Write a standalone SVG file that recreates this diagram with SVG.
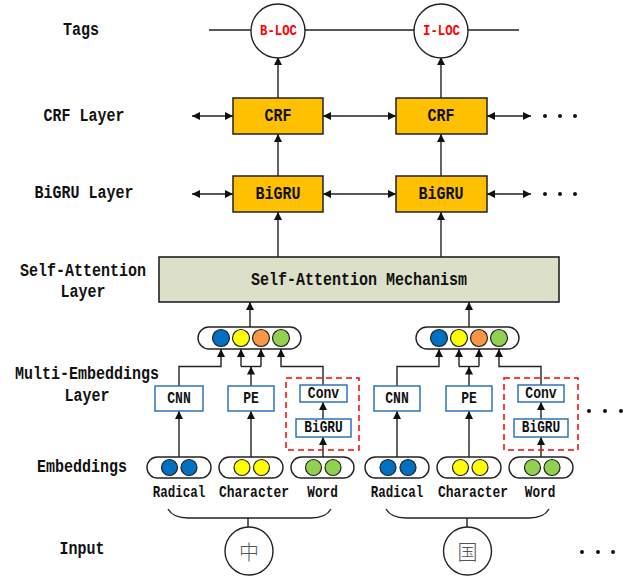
<svg xmlns="http://www.w3.org/2000/svg" width="641" height="580" viewBox="0 0 641 580">
  <defs>
    <marker id="arr" viewBox="0 0 10 10" refX="10" refY="5" markerWidth="9" markerHeight="8" markerUnits="userSpaceOnUse" orient="auto-start-reverse">
      <path d="M0,0 L10,5 L0,10 z" fill="#111"/>
    </marker>
    <style>
      text { font-family: "Liberation Mono", "DejaVu Sans Mono", monospace; font-weight: bold; fill: #111; text-anchor: middle; dominant-baseline: central; }
      .lbl { font-size: 19px; }
      .sm { font-size: 16px; }
      .tag { font-size: 15px; fill: #ff0000; }
      .cjk { font-family: "Noto Sans CJK SC", sans-serif; font-weight: 300; font-size: 20px; fill: #555; }
      .ln { stroke: #222; stroke-width: 1.4; fill: none; }
      .ar { stroke: #222; stroke-width: 1.4; fill: none; marker-end: url(#arr); }
      .dar { stroke: #222; stroke-width: 1.4; fill: none; marker-start: url(#arr); marker-end: url(#arr); }
      .gold { fill: #ffc000; stroke: #222; stroke-width: 1.5; }
      .att { fill: #dde0c9; stroke: #222; stroke-width: 1.6; }
      .blue { fill: #fff; stroke: #2e75b6; stroke-width: 1.5; }
      .dash { fill: none; stroke: #ff0000; stroke-width: 1.5; stroke-dasharray: 6 4; }
      .oval { fill: #fff; stroke: #222; stroke-width: 1.4; }
      .circ { fill: #fff; stroke: #222; stroke-width: 1.4; }
      .dot { fill: #111; }
      .c1 { fill: #0070c0; stroke: #222; stroke-width: 1.2; }
      .c2 { fill: #ffff00; stroke: #222; stroke-width: 1.2; }
      .c3 { fill: #f79646; stroke: #222; stroke-width: 1.2; }
      .c4 { fill: #92d050; stroke: #222; stroke-width: 1.2; }
    </style>
  </defs>

  <!-- layer labels -->
  <g id="layer-labels">
    <text class="lbl" x="81" y="30" textLength="36" lengthAdjust="spacingAndGlyphs">Tags</text>
    <text class="lbl" x="84" y="116" textLength="81" lengthAdjust="spacingAndGlyphs">CRF Layer</text>
    <text class="lbl" x="84" y="193" textLength="99" lengthAdjust="spacingAndGlyphs">BiGRU Layer</text>
    <text class="lbl" x="83" y="271" textLength="126" lengthAdjust="spacingAndGlyphs">Self-Attention</text>
    <text class="lbl" x="83" y="292" textLength="45" lengthAdjust="spacingAndGlyphs">Layer</text>
    <text class="lbl" x="87" y="374" textLength="144" lengthAdjust="spacingAndGlyphs">Multi-Embeddings</text>
    <text class="lbl" x="87" y="396" textLength="45" lengthAdjust="spacingAndGlyphs">Layer</text>
    <text class="lbl" x="82" y="467" textLength="90" lengthAdjust="spacingAndGlyphs">Embeddings</text>
    <text class="lbl" x="82" y="549" textLength="45" lengthAdjust="spacingAndGlyphs">Input</text>
  </g>

  <!-- connectors -->
  <g id="connectors">
    <line class="ln" x1="209" y1="30" x2="519" y2="30"/>
    <!-- CRF to tags -->
    <line class="ar" x1="278" y1="98" x2="278" y2="57"/>
    <line class="ar" x1="441" y1="98" x2="441" y2="57"/>
    <!-- BiGRU to CRF -->
    <line class="ar" x1="278" y1="176" x2="278" y2="134"/>
    <line class="ar" x1="441" y1="176" x2="441" y2="134"/>
    <!-- attention to BiGRU -->
    <line class="ar" x1="278" y1="257" x2="278" y2="212"/>
    <line class="ar" x1="441" y1="257" x2="441" y2="212"/>
    <!-- horizontal links -->
    <line class="dar" x1="192" y1="116" x2="233" y2="116"/>
    <line class="dar" x1="323" y1="116" x2="396" y2="116"/>
    <line class="dar" x1="487" y1="116" x2="531" y2="116"/>
    <line class="dar" x1="192" y1="194" x2="233" y2="194"/>
    <line class="dar" x1="323" y1="194" x2="396" y2="194"/>
    <line class="dar" x1="487" y1="194" x2="531" y2="194"/>
    <!-- concat to attention -->
    <line class="ar" x1="250" y1="327" x2="250" y2="302"/>
    <line class="ar" x1="469" y1="327" x2="469" y2="302"/>

    <!-- column 1 embeddings -> concat -->
    <polyline class="ar" points="179,386 179,366.5 221,366.5 221,349"/>
    <line class="ar" x1="251" y1="386" x2="251" y2="366.5"/>
    <line class="ln" x1="241" y1="366.5" x2="261" y2="366.5"/>
    <line class="ar" x1="241" y1="366.5" x2="241" y2="349"/>
    <line class="ar" x1="261" y1="366.5" x2="261" y2="349"/>
    <polyline class="ar" points="323,385 323,366.5 281,366.5 281,349"/>
    <line class="ar" x1="323" y1="419" x2="323" y2="402"/>
    <line class="ar" x1="179" y1="457" x2="179" y2="411"/>
    <line class="ar" x1="251" y1="457" x2="251" y2="411"/>
    <line class="ar" x1="323" y1="457" x2="323" y2="437"/>

    <!-- column 2 embeddings -> concat -->
    <polyline class="ar" points="397,386 397,366.5 439,366.5 439,349"/>
    <line class="ar" x1="469" y1="386" x2="469" y2="366.5"/>
    <line class="ln" x1="459" y1="366.5" x2="479" y2="366.5"/>
    <line class="ar" x1="459" y1="366.5" x2="459" y2="349"/>
    <line class="ar" x1="479" y1="366.5" x2="479" y2="349"/>
    <polyline class="ar" points="541,385 541,366.5 499,366.5 499,349"/>
    <line class="ar" x1="541" y1="419" x2="541" y2="402"/>
    <line class="ar" x1="397" y1="457" x2="397" y2="411"/>
    <line class="ar" x1="469" y1="457" x2="469" y2="411"/>
    <line class="ar" x1="541" y1="457" x2="541" y2="437"/>

    <!-- braces from inputs -->
    <path class="ln" d="M168,509 Q173,518 188,518 L311,518 Q326,518 331,509"/>
    <line class="ln" x1="248" y1="518" x2="248" y2="527"/>
    <path class="ln" d="M386,509 Q391,518 406,518 L529,518 Q544,518 549,509"/>
    <line class="ln" x1="467" y1="518" x2="467" y2="527"/>
  </g>

  <!-- tags -->
  <g id="tag-bloc">
    <circle class="circ" cx="278" cy="31" r="27"/>
    <text class="tag" x="278.5" y="31" textLength="37" lengthAdjust="spacingAndGlyphs">B-LOC</text>
  </g>
  <g id="tag-iloc">
    <circle class="circ" cx="441" cy="31" r="27"/>
    <text class="tag" x="441.5" y="31" textLength="37" lengthAdjust="spacingAndGlyphs">I-LOC</text>
  </g>

  <!-- CRF layer -->
  <g id="crf-1">
    <rect class="gold" x="233" y="98" width="90" height="36"/>
    <text class="lbl" x="278" y="116" textLength="27" lengthAdjust="spacingAndGlyphs">CRF</text>
  </g>
  <g id="crf-2">
    <rect class="gold" x="396" y="98" width="91" height="36"/>
    <text class="lbl" x="441" y="116" textLength="27" lengthAdjust="spacingAndGlyphs">CRF</text>
  </g>
  <g id="crf-more">
    <circle class="dot" cx="545" cy="116" r="2"/>
    <circle class="dot" cx="560" cy="116" r="2"/>
    <circle class="dot" cx="575" cy="116" r="2"/>
  </g>

  <!-- BiGRU layer -->
  <g id="bigru-1">
    <rect class="gold" x="233" y="176" width="90" height="36"/>
    <text class="lbl" x="278" y="194" textLength="45" lengthAdjust="spacingAndGlyphs">BiGRU</text>
  </g>
  <g id="bigru-2">
    <rect class="gold" x="396" y="176" width="91" height="36"/>
    <text class="lbl" x="441" y="194" textLength="45" lengthAdjust="spacingAndGlyphs">BiGRU</text>
  </g>
  <g id="bigru-more">
    <circle class="dot" cx="545" cy="194" r="2"/>
    <circle class="dot" cx="560" cy="194" r="2"/>
    <circle class="dot" cx="575" cy="194" r="2"/>
  </g>

  <!-- self-attention -->
  <g id="self-attention">
    <rect class="att" x="159" y="257" width="400" height="45"/>
    <text class="lbl" x="359" y="280" textLength="216" lengthAdjust="spacingAndGlyphs">Self-Attention Mechanism</text>
  </g>

  <!-- concatenated embeddings -->
  <g id="concat-1">
    <rect class="oval" x="198" y="327" width="103" height="22" rx="11"/>
    <circle class="c1" cx="221" cy="338" r="8.5"/>
    <circle class="c2" cx="241" cy="338" r="8.5"/>
    <circle class="c3" cx="261" cy="338" r="8.5"/>
    <circle class="c4" cx="281" cy="338" r="8.5"/>
  </g>
  <g id="concat-2">
    <rect class="oval" x="416" y="327" width="103" height="22" rx="11"/>
    <circle class="c1" cx="439" cy="338" r="8.5"/>
    <circle class="c2" cx="459" cy="338" r="8.5"/>
    <circle class="c3" cx="479" cy="338" r="8.5"/>
    <circle class="c4" cx="499" cy="338" r="8.5"/>
  </g>

  <!-- multi-embedding encoders, column 1 -->
  <g id="cnn-1">
    <rect class="blue" x="155" y="386" width="48" height="25"/>
    <text class="sm" x="179" y="398.5" textLength="23.5" lengthAdjust="spacingAndGlyphs">CNN</text>
  </g>
  <g id="pe-1">
    <rect class="blue" x="228" y="386" width="46" height="25"/>
    <text class="sm" x="251" y="398.5" textLength="15.6" lengthAdjust="spacingAndGlyphs">PE</text>
  </g>
  <g id="word-enc-1">
    <rect class="dash" x="286" y="378" width="73" height="72"/>
    <rect class="blue" x="300" y="385" width="47" height="17"/>
    <text class="sm" x="323.5" y="393.5" textLength="31.3" lengthAdjust="spacingAndGlyphs">Conv</text>
    <rect class="blue" x="296" y="419" width="55" height="18"/>
    <text class="sm" x="323.5" y="428" textLength="38.5" lengthAdjust="spacingAndGlyphs">BiGRU</text>
  </g>

  <!-- multi-embedding encoders, column 2 -->
  <g id="cnn-2">
    <rect class="blue" x="374" y="386" width="46" height="25"/>
    <text class="sm" x="397" y="398.5" textLength="23.5" lengthAdjust="spacingAndGlyphs">CNN</text>
  </g>
  <g id="pe-2">
    <rect class="blue" x="446" y="386" width="46" height="25"/>
    <text class="sm" x="469" y="398.5" textLength="15.6" lengthAdjust="spacingAndGlyphs">PE</text>
  </g>
  <g id="word-enc-2">
    <rect class="dash" x="504" y="378" width="74" height="72"/>
    <rect class="blue" x="518" y="385" width="46" height="17"/>
    <text class="sm" x="541" y="393.5" textLength="31.3" lengthAdjust="spacingAndGlyphs">Conv</text>
    <rect class="blue" x="514" y="419" width="54" height="18"/>
    <text class="sm" x="541" y="428" textLength="38.5" lengthAdjust="spacingAndGlyphs">BiGRU</text>
  </g>
  <g id="enc-more">
    <circle class="dot" cx="589" cy="411" r="2"/>
    <circle class="dot" cx="605" cy="411" r="2"/>
    <circle class="dot" cx="621" cy="411" r="2"/>
  </g>

  <!-- embeddings, column 1 -->
  <g id="radical-1">
    <rect class="oval" x="147" y="457" width="64" height="21" rx="10.5"/>
    <circle class="c1" cx="169.5" cy="467.5" r="8"/>
    <circle class="c1" cx="189" cy="467.5" r="8"/>
    <text class="sm" x="179" y="493" textLength="52.5" lengthAdjust="spacingAndGlyphs">Radical</text>
  </g>
  <g id="character-1">
    <rect class="oval" x="219" y="457" width="64" height="21" rx="10.5"/>
    <circle class="c2" cx="242" cy="467.5" r="8"/>
    <circle class="c2" cx="261.5" cy="467.5" r="8"/>
    <text class="sm" x="254" y="493" textLength="70" lengthAdjust="spacingAndGlyphs">Character</text>
  </g>
  <g id="word-1">
    <rect class="oval" x="291" y="457" width="63" height="21" rx="10.5"/>
    <circle class="c4" cx="313.5" cy="467.5" r="8"/>
    <circle class="c4" cx="333" cy="467.5" r="8"/>
    <text class="sm" x="322.5" y="493" textLength="30.5" lengthAdjust="spacingAndGlyphs">Word</text>
  </g>

  <!-- embeddings, column 2 -->
  <g id="radical-2">
    <rect class="oval" x="365" y="457" width="64" height="21" rx="10.5"/>
    <circle class="c1" cx="388" cy="467.5" r="8"/>
    <circle class="c1" cx="408" cy="467.5" r="8"/>
    <text class="sm" x="397" y="493" textLength="52.5" lengthAdjust="spacingAndGlyphs">Radical</text>
  </g>
  <g id="character-2">
    <rect class="oval" x="437" y="457" width="64" height="21" rx="10.5"/>
    <circle class="c2" cx="460.5" cy="467.5" r="8"/>
    <circle class="c2" cx="480" cy="467.5" r="8"/>
    <text class="sm" x="473" y="493" textLength="70" lengthAdjust="spacingAndGlyphs">Character</text>
  </g>
  <g id="word-2">
    <rect class="oval" x="509" y="457" width="64" height="21" rx="10.5"/>
    <circle class="c4" cx="532.5" cy="467.5" r="8"/>
    <circle class="c4" cx="552" cy="467.5" r="8"/>
    <text class="sm" x="540" y="493" textLength="30.5" lengthAdjust="spacingAndGlyphs">Word</text>
  </g>

  <!-- inputs -->
  <g id="input-1">
    <circle class="circ" cx="249" cy="551" r="24"/>
    <text class="cjk" x="249" y="551">中</text>
  </g>
  <g id="input-2">
    <circle class="circ" cx="467.5" cy="551" r="24"/>
    <text class="cjk" x="467.5" y="551">国</text>
  </g>
  <g id="input-more">
    <circle class="dot" cx="582" cy="552" r="2"/>
    <circle class="dot" cx="598" cy="552" r="2"/>
    <circle class="dot" cx="613" cy="552" r="2"/>
  </g>
</svg>
